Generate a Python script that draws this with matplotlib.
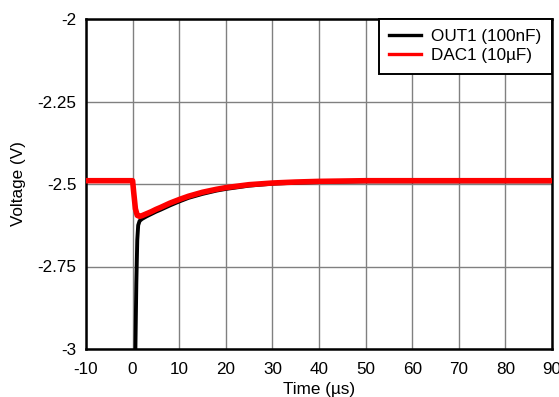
import matplotlib
matplotlib.use("Agg")
import matplotlib.pyplot as plt

plt.rcParams['font.family'] = ['Liberation Sans', 'DejaVu Sans']

# Data
dac_t = [-10, -5, 0.0, 0.2, 0.6, 1.0, 1.5, 2, 3, 4, 5, 6, 8, 10, 12, 15, 18, 20, 25, 30, 35, 40, 45, 50, 60, 70, 80, 90]
dac_v = [-2.49, -2.49, -2.49, -2.52, -2.575, -2.595, -2.598, -2.596, -2.59, -2.584, -2.577, -2.571, -2.558, -2.547, -2.537, -2.525, -2.516, -2.511, -2.502, -2.497, -2.494, -2.492, -2.491, -2.49, -2.49, -2.49, -2.49, -2.49]

out_t = [0.6, 0.8, 1.0, 1.2, 1.5, 2, 3, 4, 5, 6, 8, 10, 12, 15, 18, 20, 25, 30, 35, 40, 45, 50, 60, 70, 80, 90]
out_v = [-3.0, -2.80, -2.67, -2.625, -2.612, -2.606, -2.598, -2.591, -2.584, -2.578, -2.565, -2.553, -2.542, -2.530, -2.520, -2.515, -2.505, -2.499, -2.496, -2.494, -2.493, -2.492, -2.492, -2.492, -2.492, -2.492]

xticks = [-10, 0, 10, 20, 30, 40, 50, 60, 70, 80, 90]
yticks = [-3, -2.75, -2.5, -2.25, -2]
ytick_labels = ['-3', '-2.75', '-2.5', '-2.25', '-2']

FS = 12.3

fig = plt.figure(figsize=(5.59, 3.97), dpi=100)
ax = fig.add_axes([86/559, 1 - 349/397, (552-86)/559, (349-19)/397])

ax.plot(out_t, out_v, color='black', lw=2.8, label='OUT1 (100nF)', zorder=3)
ax.plot(dac_t, dac_v, color='#ff0000', lw=4.0, label='DAC1 (10\u00b5F)', zorder=4)

ax.set_xlim(-10, 90)
ax.set_ylim(-3, -2)
ax.set_xticks(xticks)
ax.set_xticklabels([str(v) for v in xticks])
ax.set_yticks(yticks)
ax.set_yticklabels(ytick_labels)
ax.grid(True, color='#808080', lw=1.0)
ax.tick_params(axis='y', length=0, labelsize=FS, pad=7)
ax.tick_params(axis='x', length=0, labelsize=FS, pad=9)
for s in ax.spines.values():
    s.set_linewidth(1.8)
    s.set_color('black')

ax.set_xlabel('Time (\u00b5s)', fontsize=FS, labelpad=4)
ax.set_ylabel('Voltage (V)', fontsize=FS, labelpad=8)

leg = ax.legend(loc='upper right', fontsize=FS, frameon=True, fancybox=False,
                borderaxespad=0.0, handlelength=1.9, handletextpad=0.6,
                borderpad=0.6, labelspacing=0.24)
leg.get_frame().set_edgecolor('black')
leg.get_frame().set_linewidth(1.4)
leg.get_frame().set_alpha(1)
for h in leg.get_lines():
    h.set_linewidth(2.4)

fig.savefig('out.png', dpi=100)
